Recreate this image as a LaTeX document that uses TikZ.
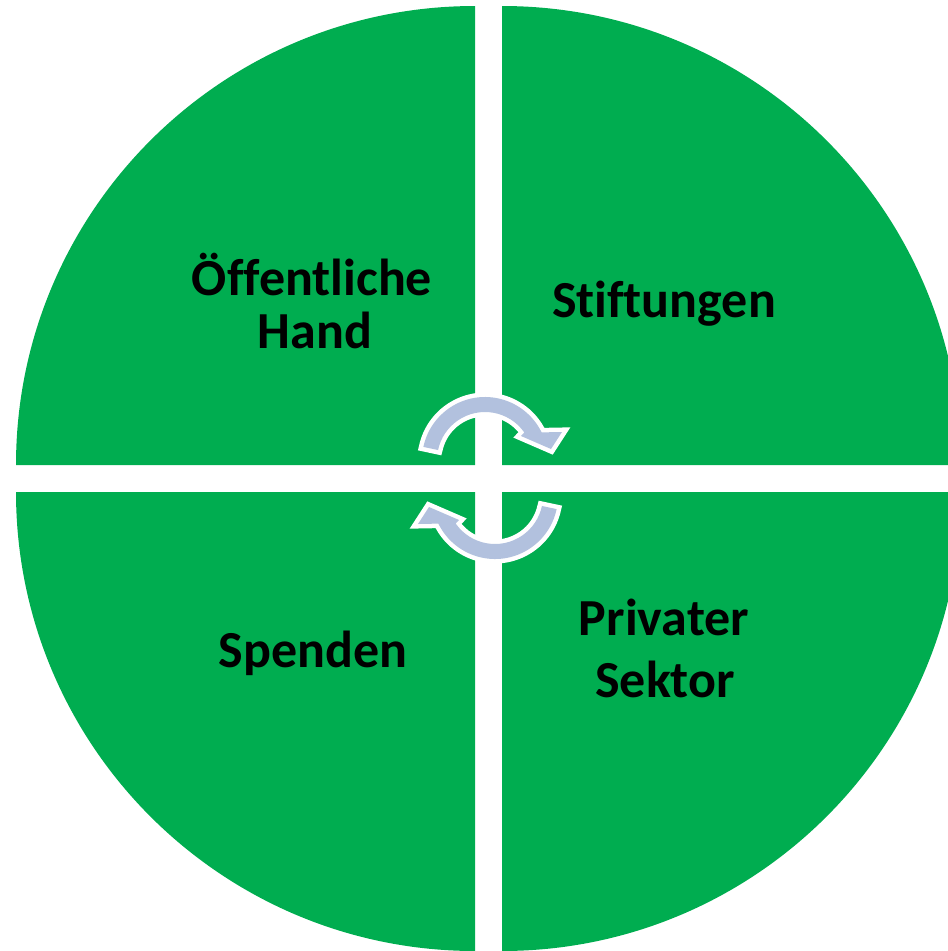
\documentclass[tikz,border=0pt]{standalone}
\usepackage{fontspec}
\usetikzlibrary{calc}
\setmainfont{Carlito}[Ligatures=NoCommon]
\definecolor{quadgreen}{RGB}{0,173,80}
\definecolor{arrowblue}{RGB}{178,193,222}
\begin{document}
\begin{tikzpicture}[x=1pt,y=-1pt,
  quad/.style={fill=quadgreen},
  cyclearrow/.style={fill=arrowblue, preaction={draw=white, fill=white, line width=9pt, line join=miter}},
  lbl/.style={anchor=base, inner sep=0pt, font=\fontsize{52}{55}\selectfont\bfseries, text=black}]
\useasboundingbox (0,0) rectangle (948,951);
\begin{scope}
\clip (0,0) rectangle (948,951);
% quadrants
\fill[quad] (475,465) -- ++(-459,0) arc[start angle=180, end angle=270, radius=459] -- cycle;
\fill[quad] (502,465) -- ++(0,-459) arc[start angle=270, end angle=360, radius=459] -- cycle;
\fill[quad] (475,492) -- ++(0,459) arc[start angle=90, end angle=180, radius=459] -- cycle;
\fill[quad] (502,492) -- ++(459,0) arc[start angle=0, end angle=90, radius=459] -- cycle;
\end{scope}
% top cycle arrow
\path[cyclearrow] (485,460) ++(-168:63) arc[start angle=-168, end angle=-26, radius=63]
  -- (562,432) -- (551,449) -- (521,436) -- ($(485,460)+(-35:48)$)
  arc[start angle=-35, end angle=-168, radius=48] -- cycle;
% bottom cycle arrow
\begin{scope}[rotate around={180:(490,478)}]
\path[cyclearrow] (485,460) ++(-168:63) arc[start angle=-168, end angle=-26, radius=63]
  -- (562,432) -- (551,449) -- (521,436) -- ($(485,460)+(-35:48)$)
  arc[start angle=-35, end angle=-168, radius=48] -- cycle;
\end{scope}
% labels
\node[lbl] (oh1) at (312,295) {Öffentliche};
\node[lbl] (oh2) at (315,348) {Hand};
\node[lbl] (st) at (664,317) {Stiftungen};
\node[lbl] (sp) at (313,667) {Spenden};
\node[lbl] (pr1) at (664,635) {Privater};
\node[lbl] (pr2) at (665,697) {Sektor};
\end{tikzpicture}
\end{document}
